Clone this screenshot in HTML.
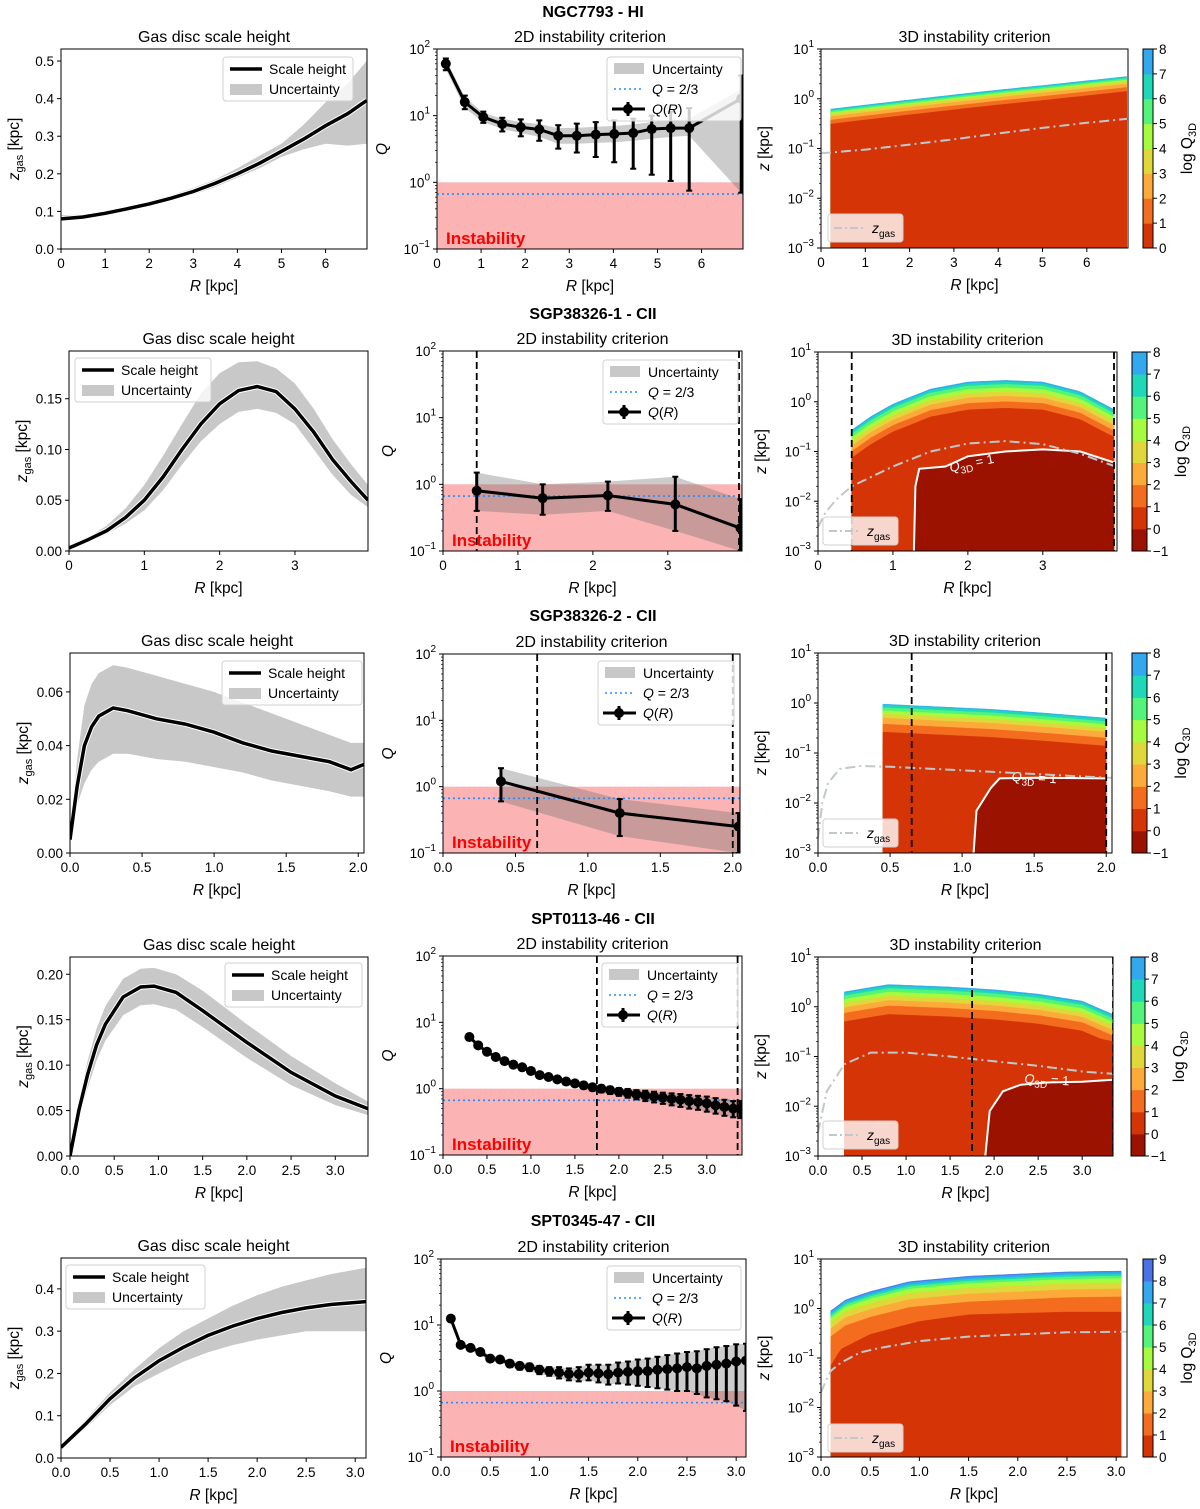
<!DOCTYPE html>
<html><head><meta charset="utf-8">
<style>
html,body{margin:0;padding:0;background:#fff;}
svg{display:block;font-family:"Liberation Sans","DejaVu Sans",sans-serif;}
</style></head>
<body>
<svg id="fig" width="1200" height="1509" viewBox="0 0 1200 1509" xmlns="http://www.w3.org/2000/svg"></svg>
<script>
// ---------------- DATA ----------------
const rowTitles = ["NGC7793 - HI","SGP38326-1 - CII","SGP38326-2 - CII","SPT0113-46 - CII","SPT0345-47 - CII"];
// Left panels: scale height
const l1R=[0,0.5,1,1.5,2,2.5,3,3.5,4,4.5,5,5.5,6,6.5,6.93];
const l1Z=[0.08,0.085,0.095,0.107,0.12,0.135,0.153,0.175,0.2,0.228,0.26,0.292,0.328,0.36,0.395];
const l1Hi=[0.09,0.092,0.1,0.112,0.127,0.143,0.162,0.185,0.215,0.248,0.28,0.33,0.39,0.44,0.5];
const l1Lo=[0.075,0.08,0.09,0.1,0.115,0.13,0.145,0.165,0.19,0.215,0.245,0.265,0.28,0.275,0.28];
const l2R=[0,0.25,0.5,0.75,1,1.25,1.5,1.75,2,2.25,2.5,2.75,3,3.25,3.5,3.75,3.97];
const l2Z=[0.003,0.011,0.02,0.033,0.05,0.073,0.1,0.125,0.145,0.158,0.162,0.157,0.14,0.117,0.09,0.068,0.05];
const l2Hi=[0.004,0.013,0.025,0.042,0.065,0.094,0.125,0.155,0.175,0.186,0.187,0.18,0.165,0.14,0.11,0.085,0.065];
const l2Lo=[0.002,0.009,0.017,0.027,0.04,0.06,0.085,0.108,0.125,0.137,0.14,0.136,0.125,0.1,0.075,0.055,0.043];
const l3R=[0,0.05,0.1,0.15,0.2,0.3,0.4,0.6,0.8,1.0,1.2,1.4,1.6,1.8,1.95,2.04];
const l3Z=[0.005,0.025,0.04,0.047,0.051,0.054,0.053,0.05,0.048,0.045,0.041,0.038,0.036,0.034,0.031,0.033];
const l3Hi=[0.006,0.035,0.055,0.063,0.067,0.07,0.069,0.066,0.063,0.06,0.056,0.052,0.048,0.044,0.041,0.041];
const l3Lo=[0.004,0.018,0.026,0.031,0.034,0.037,0.037,0.035,0.034,0.032,0.03,0.027,0.025,0.023,0.021,0.021];
const l4R=[0,0.1,0.2,0.3,0.4,0.6,0.8,0.95,1.2,1.5,2.0,2.5,3.0,3.37];
const l4Z=[0,0.05,0.09,0.122,0.145,0.175,0.186,0.187,0.18,0.16,0.125,0.092,0.066,0.052];
const l4Hi=[0,0.06,0.105,0.14,0.165,0.195,0.206,0.207,0.2,0.182,0.145,0.11,0.08,0.06];
const l4Lo=[0,0.04,0.075,0.105,0.127,0.155,0.166,0.167,0.161,0.142,0.108,0.078,0.056,0.045];
const l5R=[0,0.25,0.5,0.75,1,1.25,1.5,1.75,2,2.25,2.5,2.75,3.11];
const l5Z=[0.025,0.08,0.14,0.19,0.23,0.262,0.29,0.312,0.33,0.344,0.355,0.363,0.37];
const l5Hi=[0.03,0.09,0.155,0.21,0.26,0.3,0.33,0.36,0.385,0.405,0.42,0.435,0.45];
const l5Lo=[0.02,0.07,0.125,0.17,0.2,0.228,0.25,0.267,0.28,0.29,0.3,0.3,0.3];
// Middle panels: Q(R)
const m1R=[0.2,0.63,1.05,1.48,1.9,2.32,2.75,3.17,3.6,4.02,4.45,4.87,5.3,5.72,6.9];
const m1Q=[60,16,9.5,7.5,6.7,6.2,5,5,5.2,5.3,5.5,6.3,6.5,6.5,18];
const m1Lo=[48,12.5,7.8,5.8,4.9,4.2,3.2,2.8,2.4,2,1.6,1.3,1.05,0.75,0.7];
const m1Hi=[72,20,11.5,9.3,8.8,8.5,7.2,7.6,8,8.5,9,10,11.5,13,40];
const m1BandLo=[50,13,8,6.3,5.5,4.8,3.8,3.8,3.9,4,4.2,4.5,4.8,5,0.7];
const m1BandHi=[70,19,11,9,8,7.5,6.5,6.6,6.8,7,7.4,8,8.5,9,25];
const m2R=[0.45,1.33,2.2,3.1,3.97];
const m2Q=[0.8,0.62,0.68,0.5,0.22];
const m2Lo=[0.4,0.35,0.4,0.2,0.1];
const m2Hi=[1.5,1.0,1.1,1.3,0.6];
const m3R=[0.4,1.22,2.04];
const m3Q=[1.2,0.4,0.25];
const m3Lo=[0.6,0.18,0.1];
const m3Hi=[1.9,0.65,0.4];
const m4R=[0.3,0.4,0.5,0.6,0.7,0.8,0.9,1.0,1.1,1.2,1.3,1.4,1.5,1.6,1.7,1.8,1.9,2.0,2.1,2.2,2.3,2.4,2.5,2.6,2.7,2.8,2.9,3.0,3.1,3.2,3.3,3.38];
const m4Q=[6,4.5,3.6,3,2.6,2.3,2.1,1.85,1.6,1.5,1.38,1.28,1.2,1.12,1.05,1.0,0.95,0.9,0.86,0.82,0.79,0.76,0.73,0.7,0.68,0.65,0.63,0.6,0.56,0.53,0.5,0.5];
const m4Lo=[5.6,4.2,3.4,2.8,2.45,2.15,1.95,1.7,1.48,1.38,1.26,1.16,1.08,1.0,0.93,0.88,0.83,0.78,0.73,0.69,0.65,0.62,0.59,0.56,0.53,0.5,0.48,0.45,0.42,0.39,0.37,0.36];
const m4Hi=[6.4,4.8,3.8,3.2,2.75,2.45,2.25,2.0,1.72,1.62,1.5,1.4,1.32,1.25,1.17,1.12,1.07,1.02,0.99,0.95,0.93,0.9,0.87,0.85,0.83,0.8,0.78,0.76,0.72,0.68,0.65,0.65];
const m5R=[0.1,0.2,0.3,0.4,0.5,0.6,0.7,0.8,0.9,1.0,1.1,1.2,1.3,1.4,1.5,1.6,1.7,1.8,1.9,2.0,2.1,2.2,2.3,2.4,2.5,2.6,2.7,2.8,2.9,3.0,3.1];
const m5Q=[12.5,5,4.5,3.9,3.1,3,2.6,2.4,2.3,2.1,2.0,1.9,1.8,1.8,1.9,1.85,1.8,1.9,1.95,2.0,2.0,2.1,2.15,2.2,2.3,2.2,2.4,2.5,2.6,2.8,2.9];
const m5Lo=[11.5,4.6,4.1,3.5,2.8,2.7,2.3,2.1,2.0,1.8,1.7,1.55,1.45,1.4,1.45,1.35,1.25,1.3,1.25,1.2,1.15,1.1,1.05,1.0,1.0,0.9,0.8,0.75,0.7,0.6,0.5];
const m5Hi=[13.5,5.4,4.9,4.3,3.4,3.3,2.9,2.7,2.6,2.4,2.3,2.3,2.2,2.3,2.5,2.5,2.5,2.7,2.8,3.0,3.1,3.3,3.5,3.7,3.9,4.0,4.3,4.6,4.8,5.1,5.2];
// Right panels
const r1TopR=[0.22,1,2,3,4,5,6,6.9];
const r1TopZ=[0.62,0.75,0.95,1.2,1.5,1.85,2.3,2.8];
const r1Offs=[0.015,0.04,0.07,0.1,0.15,0.22,0.3];
const r1EdgeR=[0.22,0.45,0.65,1,2,3,4,5,6,6.9];
const r1EdgeZ=[0.07,0.12,0.18,0.21,0.28,0.37,0.48,0.6,0.72,0.85];
const r1ZgR=[0,1,2,3,4,5,6,6.93];
const r1ZgZ=[0.08,0.095,0.12,0.153,0.2,0.26,0.328,0.395];
const r2TopR=[0.45,0.7,1,1.5,2,2.5,3,3.5,3.95];
const r2TopZ=[0.27,0.5,0.9,1.8,2.5,2.7,2.5,1.6,0.7];
const r2Offs=[0.03,0.08,0.15,0.23,0.32,0.43,0.56];
const r2EdgeR=[0.45,1,1.5,2,2.5,3,3.5,3.95];
const r2EdgeZ=[0.06,0.12,0.3,0.45,0.5,0.45,0.35,0.2];
const r2CtR=[1.28,1.3,1.35,1.7,2,2.5,3,3.5,3.95];
const r2CtZ=[0.001,0.02,0.045,0.05,0.08,0.1,0.11,0.1,0.06];
const r2ZgR=[0,0.1,0.25,0.45,0.75,1,1.5,2,2.5,3,3.5,3.97];
const r2ZgZ=[0.003,0.006,0.011,0.02,0.033,0.05,0.1,0.145,0.162,0.14,0.09,0.05];
const r3TopR=[0.45,0.8,1.2,1.6,2.0];
const r3TopZ=[0.95,0.85,0.75,0.62,0.5];
const r3Offs=[0.02,0.07,0.13,0.2,0.28,0.4,0.56];
const r3EdgeR=[0.45,1,1.5,2.0];
const r3EdgeZ=[0.14,0.14,0.13,0.11];
const r3CtR=[1.08,1.1,1.2,1.26,1.5,2.0];
const r3CtZ=[0.001,0.007,0.02,0.031,0.032,0.031];
const r3ZgR=[0,0.03,0.07,0.15,0.3,0.5,1,1.5,2,2.04];
const r3ZgZ=[0.002,0.01,0.025,0.048,0.055,0.053,0.045,0.038,0.032,0.032];
const r4TopR=[0.3,0.8,1.5,2,2.5,3,3.35];
const r4TopZ=[2.0,2.8,2.5,2.2,1.8,1.3,0.7];
const r4Offs=[0.03,0.08,0.15,0.23,0.32,0.43,0.6];
const r4EdgeR=[0.3,1,1.5,2,2.5,3,3.35];
const r4EdgeZ=[0.3,0.45,0.42,0.38,0.32,0.27,0.2];
const r4CtR=[1.9,1.95,2.1,2.3,2.6,3.0,3.35];
const r4CtZ=[0.001,0.008,0.02,0.027,0.03,0.031,0.034];
const r4ZgR=[0,0.1,0.3,0.6,1.0,1.5,2,2.5,3,3.35];
const r4ZgZ=[0.003,0.02,0.07,0.12,0.12,0.1,0.08,0.065,0.05,0.045];
const r5TopR=[0.1,0.25,0.5,0.9,1.5,2.5,3.05];
const r5TopZ=[0.9,1.5,2.2,3.5,4.5,5.5,5.7];
const r5Offs=[0.02,0.06,0.1,0.15,0.24,0.36,0.52];
const r5EdgeR=[0.1,0.2,0.5,1,1.5,2.5,3.05];
const r5EdgeZ=[0.07,0.15,0.3,0.55,0.75,0.85,0.85];
const r5ZgR=[0,0.05,0.1,0.2,0.4,0.6,1,1.5,2,2.5,3.11];
const r5ZgZ=[0.02,0.035,0.055,0.08,0.13,0.16,0.22,0.27,0.3,0.33,0.34];
const levelVals=[-1,0,1,2,3,4,5,6,7,8];
const levelCols=["#9b1200","#d53506","#f46d1e","#fcaa3a","#e0d73a","#a6fb3e","#52f47a","#1fd8b8","#32a8ef","#4a72e6"];

// ---------------- HELPERS ----------------
const NS="http://www.w3.org/2000/svg";
const fig=document.getElementById('fig');
function el(tag,attrs,parent,name,inter){
  const e=document.createElementNS(NS,tag);
  for(const k in attrs) e.setAttribute(k,attrs[k]);
  
  
  (parent||fig).appendChild(e);
  return e;
}
function txt(x,y,html,size,anchor,parent,name,extra){
  const a=Object.assign({x:x,y:y,'font-size':size,'text-anchor':anchor||'middle',fill:'#000'},extra||{});
  const t=el('text',a,parent,name,false);
  t.innerHTML=html;
  return t;
}
function col(v){return levelCols[levelVals.indexOf(v)];}
function lerpLog(xs,ys,x){
  if(x<=xs[0])return ys[0];
  for(let i=1;i<xs.length;i++){ if(x<=xs[i]){const t=(x-xs[i-1])/(xs[i]-xs[i-1]);return Math.pow(10,Math.log10(ys[i-1])*(1-t)+Math.log10(ys[i])*t);} }
  return ys[ys.length-1];
}
function makeAxes(b,xmax,ymin,ymax,ylog){
  const W=b[2]-b[0],H=b[3]-b[1];
  const X=v=>b[0]+v/xmax*W;
  const Y=ylog?(v=>b[3]-(Math.log10(v)-Math.log10(ymin))/(Math.log10(ymax)-Math.log10(ymin))*H):(v=>b[3]-(v-ymin)/(ymax-ymin)*H);
  return {X,Y,b};
}
function sup(n){return '10<tspan dy="-7" font-size="10">'+n+'</tspan>';}
function frame(ax,g,xt,xl,yt,yl,ylog,ymin,ymax){
  const b=ax.b;
  el('rect',{x:b[0],y:b[1],width:b[2]-b[0],height:b[3]-b[1],fill:'none',stroke:'#000','stroke-width':1},g,'axes-frame',false);
  xt.forEach((v,i)=>{const x=ax.X(v);
    el('line',{x1:x,x2:x,y1:b[3],y2:b[3]+4,stroke:'#000'},g,'x-tick',false);
    txt(x,b[3]+19,xl[i],13.5,'middle',g,'x-tick-label');});
  yt.forEach((v,i)=>{const y=ax.Y(v);
    el('line',{x1:b[0]-4,x2:b[0],y1:y,y2:y,stroke:'#000'},g,'y-tick',false);
    txt(b[0]-7,y+5,ylog?sup(yl[i]):yl[i],13.5,'end',g,'y-tick-label');});
  if(ylog){
    for(let e=Math.round(Math.log10(ymin));e<Math.round(Math.log10(ymax));e++){
      for(let m=2;m<10;m++){const y=ax.Y(m*Math.pow(10,e));
        el('line',{x1:b[0]-2,x2:b[0],y1:y,y2:y,stroke:'#000','stroke-width':0.7},g,'y-minor-tick',false);}
    }
  }
}
function pathOf(xs,ys,ax){return xs.map((x,i)=>(i?'L':'M')+ax.X(x).toFixed(1)+','+ax.Y(ys[i]).toFixed(1)).join(' ');}
function xlabel(ax,g){const b=ax.b;txt((b[0]+b[2])/2,b[3]+42,'<tspan font-style="italic">R</tspan> [kpc]',15.5,'middle',g,'x-axis-title');}
function ylabel(x,yc,html,g){const t=txt(x,yc,html,15.5,'middle',g,'y-axis-title');t.setAttribute('transform','rotate(-90 '+x+' '+yc+')');}
function legendBox(x,y,w,h,g,name){return el('rect',{x:x,y:y,width:w,height:h,rx:3,fill:'rgba(255,255,255,0.8)',stroke:'#d0d0d0'},g,name,false);}

function leftPanel(b,xmax,ymax,R,Z,Hi,Lo,xt,xl,yt,yl,leg){
  const g=el('g',{},fig,'scale-height-panel',false);
  const ax=makeAxes(b,xmax,0,ymax,false);
  const clip=el('clipPath',{id:'c'+b[0]+'_'+b[1]},g,'clip',false);
  el('rect',{x:b[0],y:b[1],width:b[2]-b[0],height:b[3]-b[1]},clip,'clip-rect',false);
  const pg=el('g',{'clip-path':'url(#c'+b[0]+'_'+b[1]+')'},g,'plot-area',false);
  const up=pathOf(R,Hi,ax);
  const lo=R.slice().reverse().map((x,i)=>'L'+ax.X(x).toFixed(1)+','+ax.Y(Lo[Lo.length-1-i]).toFixed(1)).join(' ');
  el('path',{d:up+' '+lo+' Z',fill:'#c8c8c8',stroke:'none'},pg,'uncertainty-band',false);
  el('path',{d:pathOf(R,Z,ax),fill:'none',stroke:'#fff','stroke-width':5.5},pg,'scale-height-halo',false);
  el('path',{d:pathOf(R,Z,ax),fill:'none',stroke:'#000','stroke-width':3.5},pg,'scale-height-line',false);
  frame(ax,g,xt,xl,yt,yl,false);
  xlabel(ax,g);
  ylabel(b[0]-42,(b[1]+b[3])/2,'<tspan font-style="italic">z</tspan><tspan dy="4" font-size="11">gas</tspan><tspan dy="-4"> [kpc]</tspan>',g);
  txt((b[0]+b[2])/2,b[1]-7,'Gas disc scale height',16,'middle',g,'panel-title');
  const lg=el('g',{},g,'legend',false);
  legendBox(leg[0],leg[1],leg[2],44,lg,'legend-box');
  el('line',{x1:leg[0]+7,x2:leg[0]+39,y1:leg[1]+12,y2:leg[1]+12,stroke:'#000','stroke-width':3.5},lg,'legend-line-sample',false);
  txt(leg[0]+46,leg[1]+17,'Scale height',14,'start',lg,'legend-entry');
  el('rect',{x:leg[0]+7,y:leg[1]+27,width:32,height:11,fill:'#c8c8c8'},lg,'legend-band-sample',false);
  txt(leg[0]+46,leg[1]+37,'Uncertainty',14,'start',lg,'legend-entry');
}
function midPanel(b,xmax,R,Q,Lo,Hi,xt,xl,dashes,leg,BLo,BHi){
  BLo=BLo||Lo;BHi=BHi||Hi;
  const g=el('g',{},fig,'q2d-panel',false);
  const ax=makeAxes(b,xmax,0.1,100,true);
  const cid='m'+b[0]+'_'+b[1];
  const clip=el('clipPath',{id:cid},g,'clip',false);
  el('rect',{x:b[0],y:b[1],width:b[2]-b[0],height:b[3]-b[1]},clip,'clip-rect',false);
  const pg=el('g',{'clip-path':'url(#'+cid+')'},g,'plot-area',false);
  el('rect',{x:b[0],y:ax.Y(1),width:b[2]-b[0],height:b[3]-ax.Y(1),fill:'#fbb3b3'},pg,'instability-region',false);
  const up=pathOf(R,BHi,ax);
  const lo=R.slice().reverse().map((x,i)=>'L'+ax.X(x).toFixed(1)+','+ax.Y(BLo[BLo.length-1-i]).toFixed(1)).join(' ');
  el('path',{d:up+' '+lo+' Z',fill:'rgba(110,110,110,0.35)',stroke:'none'},pg,'uncertainty-band',false);
  el('line',{x1:b[0],x2:b[2],y1:ax.Y(2/3),y2:ax.Y(2/3),stroke:'#1e90ff','stroke-width':1.6,'stroke-dasharray':'2 3'},pg,'q-two-thirds-line',false);
  dashes.forEach(d=>el('line',{x1:ax.X(d),x2:ax.X(d),y1:b[1],y2:b[3],stroke:'#000','stroke-width':1.8,'stroke-dasharray':'7 4'},pg,'radius-limit-line',false));
  el('path',{d:pathOf(R,Q,ax),fill:'none',stroke:'#000','stroke-width':3},pg,'q-line',false);
  R.forEach((r,i)=>{const x=ax.X(r);
    el('line',{x1:x,x2:x,y1:ax.Y(Lo[i]),y2:ax.Y(Hi[i]),stroke:'#000','stroke-width':3},pg,'error-bar',false);
    el('line',{x1:x-3,x2:x+3,y1:ax.Y(Lo[i]),y2:ax.Y(Lo[i]),stroke:'#000','stroke-width':2},pg,'error-cap',false);
    el('line',{x1:x-3,x2:x+3,y1:ax.Y(Hi[i]),y2:ax.Y(Hi[i]),stroke:'#000','stroke-width':2},pg,'error-cap',false);
    el('circle',{cx:x,cy:ax.Y(Q[i]),r:5,fill:'#000'},pg,'q-point',false);});
  txt(b[0]+9,b[3]-5,'Instability',17,'start',pg,'instability-label',{fill:'#ff0000','font-weight':'bold'});
  frame(ax,g,xt,xl,[0.1,1,10,100],['−1','0','1','2'],true,0.1,100);
  xlabel(ax,g);
  ylabel(b[0]-50,(b[1]+b[3])/2,'<tspan font-style="italic">Q</tspan>',g);
  txt((b[0]+b[2])/2,b[1]-7,'2D instability criterion',16,'middle',g,'panel-title');
  const lg=el('g',{},g,'legend',false);
  legendBox(leg[0],leg[1],leg[2],64,lg,'legend-box');
  el('rect',{x:leg[0]+7,y:leg[1]+6,width:30,height:11,fill:'#c8c8c8'},lg,'legend-band-sample',false);
  txt(leg[0]+45,leg[1]+17,'Uncertainty',14,'start',lg,'legend-entry');
  el('line',{x1:leg[0]+7,x2:leg[0]+37,y1:leg[1]+32,y2:leg[1]+32,stroke:'#1e90ff','stroke-width':1.6,'stroke-dasharray':'2 3'},lg,'legend-dotted-sample',false);
  txt(leg[0]+45,leg[1]+37,'<tspan font-style="italic">Q</tspan> = 2/3',14,'start',lg,'legend-entry');
  el('line',{x1:leg[0]+5,x2:leg[0]+38,y1:leg[1]+52,y2:leg[1]+52,stroke:'#000','stroke-width':3},lg,'legend-marker-line',false);
  el('line',{x1:leg[0]+21,x2:leg[0]+21,y1:leg[1]+45,y2:leg[1]+59,stroke:'#000','stroke-width':3},lg,'legend-marker-bar',false);
  el('circle',{cx:leg[0]+21,cy:leg[1]+52,r:5,fill:'#000'},lg,'legend-marker',false);
  txt(leg[0]+45,leg[1]+57,'<tspan font-style="italic">Q</tspan>(<tspan font-style="italic">R</tspan>)',14,'start',lg,'legend-entry');
}
function rightPanel(b,cb,xmax,topR,topZ,offs,edgeR,edgeZ,ctR,ctZ,zgR,zgZ,xt,xl,dashes,cbMin,cbMax,leg,ctLabel){
  const g=el('g',{},fig,'q3d-panel',false);
  const ax=makeAxes(b,xmax,0.001,10,true);
  const cid='r'+b[0]+'_'+b[1];
  const clip=el('clipPath',{id:cid},g,'clip',false);
  el('rect',{x:b[0],y:b[1],width:b[2]-b[0],height:b[3]-b[1]},clip,'clip-rect',false);
  const pg=el('g',{'clip-path':'url(#'+cid+')'},g,'plot-area',false);
  const x0=topR[0],x1=topR[topR.length-1];
  const xs=[];for(let i=0;i<=80;i++)xs.push(x0+(x1-x0)*i/80);
  function fillUnder(fn,color,name){
    let d='M'+ax.X(x0).toFixed(1)+','+(b[3]+2);
    xs.forEach(x=>{d+=' L'+ax.X(x).toFixed(1)+','+ax.Y(fn(x)).toFixed(1);});
    d+=' L'+ax.X(x1).toFixed(1)+','+(b[3]+2)+' Z';
    el('path',{d:d,fill:color,stroke:color,'stroke-width':0.4},pg,name,false);
  }
  fillUnder(x=>lerpLog(topR,topZ,x),col(cbMax-1),'q3d-level-band');
  offs.forEach((o,i)=>{const lvl=cbMax-2-i;
    fillUnder(x=>lerpLog(topR,topZ,x)*Math.pow(10,-o),col(lvl),'q3d-level-band');});
  fillUnder(x=>lerpLog(edgeR,edgeZ,x),col(0),'q3d-level-band');
  if(ctR){
    let d='M'+ax.X(ctR[0]).toFixed(1)+','+(b[3]+2);
    ctR.forEach((r,i)=>{d+=' L'+ax.X(r).toFixed(1)+','+ax.Y(ctZ[i]).toFixed(1);});
    d+=' L'+ax.X(ctR[ctR.length-1]).toFixed(1)+','+(b[3]+2)+' Z';
    el('path',{d:d,fill:col(-1),stroke:'none'},pg,'q3d-unstable-region',false);
    el('path',{d:pathOf(ctR,ctZ,ax),fill:'none',stroke:'#fff','stroke-width':2},pg,'q3d-equals-1-contour',false);
    const lx=ax.X(ctLabel[0]),ly=ax.Y(ctLabel[1]);
    txt(lx,ly+5,'<tspan font-style="italic">Q</tspan><tspan dy="4" font-size="10">3D</tspan><tspan dy="-4"> = 1</tspan>',13,'middle',pg,'contour-label',{fill:'#fff',transform:'rotate('+ctLabel[2]+' '+lx+' '+ly+')'});
  }
  el('path',{d:pathOf(zgR,zgZ,ax),fill:'none',stroke:'#c0c8cc','stroke-width':2,'stroke-dasharray':'10 4 2 4'},pg,'z-gas-line',false);
  dashes.forEach(d=>el('line',{x1:ax.X(d),x2:ax.X(d),y1:b[1],y2:b[3],stroke:'#000','stroke-width':1.8,'stroke-dasharray':'7 4'},pg,'radius-limit-line',false));
  frame(ax,g,xt,xl,[0.001,0.01,0.1,1,10],['−3','−2','−1','0','1'],true,0.001,10);
  xlabel(ax,g);
  ylabel(b[0]-52,(b[1]+b[3])/2,'<tspan font-style="italic">z</tspan> [kpc]',g);
  txt((b[0]+b[2])/2,b[1]-7,'3D instability criterion',16,'middle',g,'panel-title');
  const lg=el('g',{},g,'legend',false);
  legendBox(leg[0],leg[1],75,28,lg,'legend-box');
  el('line',{x1:leg[0]+6,x2:leg[0]+36,y1:leg[1]+14,y2:leg[1]+14,stroke:'#c0c8cc','stroke-width':2,'stroke-dasharray':'8 3 2 3'},lg,'legend-zgas-sample',false);
  txt(leg[0]+44,leg[1]+19,'<tspan font-style="italic">z</tspan><tspan dy="4" font-size="10">gas</tspan>',14,'start',lg,'legend-entry');
  const cg=el('g',{},g,'colorbar',false);
  const n=cbMax-cbMin,hh=(cb[3]-cb[1])/n;
  for(let v=cbMin;v<cbMax;v++){
    el('rect',{x:cb[0],y:cb[3]-(v-cbMin+1)*hh,width:cb[2]-cb[0],height:hh+0.5,fill:col(v)},cg,'colorbar-swatch',false);
  }
  el('rect',{x:cb[0],y:cb[1],width:cb[2]-cb[0],height:cb[3]-cb[1],fill:'none',stroke:'#000'},cg,'colorbar-frame',false);
  for(let v=cbMin;v<=cbMax;v++){const y=cb[3]-(v-cbMin)*hh;
    el('line',{x1:cb[2],x2:cb[2]+4,y1:y,y2:y,stroke:'#000'},cg,'colorbar-tick',false);
    txt(cb[2]+6,y+5,(v<0?'−'+(-v):''+v),13.5,'start',cg,'colorbar-tick-label');}
  const lx=cb[2]+39,ly=(cb[1]+cb[3])/2;
  const t=txt(lx,ly,'log Q<tspan dy="4" font-size="11">3D</tspan>',15.5,'middle',cg,'colorbar-title');
  t.setAttribute('transform','rotate(-90 '+lx+' '+ly+')');
}

const titleY=[17,319,621,924,1226];
rowTitles.forEach((t,i)=>txt(593,titleY[i],t,16,'middle',fig,'row-title',{'font-weight':'bold'}));
const iL=['0','1','2','3','4','5','6'];
leftPanel([61,49,367,249],6.94,0.532,l1R,l1Z,l1Hi,l1Lo,[0,1,2,3,4,5,6],iL,[0,0.1,0.2,0.3,0.4,0.5],['0.0','0.1','0.2','0.3','0.4','0.5'],[223,57,130]);
midPanel([437,49,743,249],6.94,m1R,m1Q,m1Lo,m1Hi,[0,1,2,3,4,5,6],iL,[],[607,57,134],m1BandLo,m1BandHi);
rightPanel([821,49,1128,248],[1143,49,1153,248],6.93,r1TopR,r1TopZ,r1Offs,r1EdgeR,r1EdgeZ,null,null,r1ZgR,r1ZgZ,[0,1,2,3,4,5,6],iL,[],0,8,[828,214],null);

leftPanel([69,351,368,551],3.97,0.197,l2R,l2Z,l2Hi,l2Lo,[0,1,2,3],['0','1','2','3'],[0,0.05,0.1,0.15],['0.00','0.05','0.10','0.15'],[75,358,136]);
midPanel([443,351,742,551],3.99,m2R,m2Q,m2Lo,m2Hi,[0,1,2,3],['0','1','2','3'],[0.45,3.95],[603,360,135]);
rightPanel([818,352,1117,551],[1132,352,1147,551],3.99,r2TopR,r2TopZ,r2Offs,r2EdgeR,r2EdgeZ,r2CtR,r2CtZ,r2ZgR,r2ZgZ,[0,1,2,3],['0','1','2','3'],[0.45,3.95],-1,8,[823,517],[2.05,0.06,-12]);

const hL=['0.0','0.5','1.0','1.5','2.0'];
leftPanel([70,653,364,853],2.04,0.0745,l3R,l3Z,l3Hi,l3Lo,[0,0.5,1,1.5,2],hL,[0,0.02,0.04,0.06],['0.00','0.02','0.04','0.06'],[222,661,140]);
midPanel([443,654,740,853],2.05,m3R,m3Q,m3Lo,m3Hi,[0,0.5,1,1.5,2],hL,[0.65,2.0],[598,661,136]);
rightPanel([818,653,1112,853],[1132,653,1147,853],2.04,r3TopR,r3TopZ,r3Offs,r3EdgeR,r3EdgeZ,r3CtR,r3CtZ,r3ZgR,r3ZgZ,[0,0.5,1,1.5,2],hL,[0.65,2.0],-1,8,[823,819],[1.5,0.033,3]);

const h4=['0.0','0.5','1.0','1.5','2.0','2.5','3.0'];const v4=[0,0.5,1,1.5,2,2.5,3];
leftPanel([70,957,368,1156],3.37,0.219,l4R,l4Z,l4Hi,l4Lo,v4,h4,[0,0.05,0.1,0.15,0.2],['0.00','0.05','0.10','0.15','0.20'],[225,963,137]);
midPanel([443,956,742,1155],3.4,m4R,m4Q,m4Lo,m4Hi,v4,h4,[1.75,3.35],[602,963,136]);
rightPanel([818,957,1113,1156],[1131,957,1145,1156],3.35,r4TopR,r4TopZ,r4Offs,r4EdgeR,r4EdgeZ,r4CtR,r4CtZ,r4ZgR,r4ZgZ,v4,h4,[1.75,3.35],-1,8,[823,1121],[2.6,0.035,3]);

leftPanel([61,1258,366,1458],3.11,0.473,l5R,l5Z,l5Hi,l5Lo,v4,h4,[0,0.1,0.2,0.3,0.4],['0.0','0.1','0.2','0.3','0.4'],[66,1265,139]);
midPanel([441,1259,746,1457],3.1,m5R,m5Q,m5Lo,m5Hi,v4,h4,[],[607,1266,134]);
rightPanel([821,1259,1127,1457],[1143,1259,1153,1457],3.11,r5TopR,r5TopZ,r5Offs,r5EdgeR,r5EdgeZ,null,null,r5ZgR,r5ZgZ,v4,h4,[],0,9,[828,1424],null);
</script>
</body></html>
